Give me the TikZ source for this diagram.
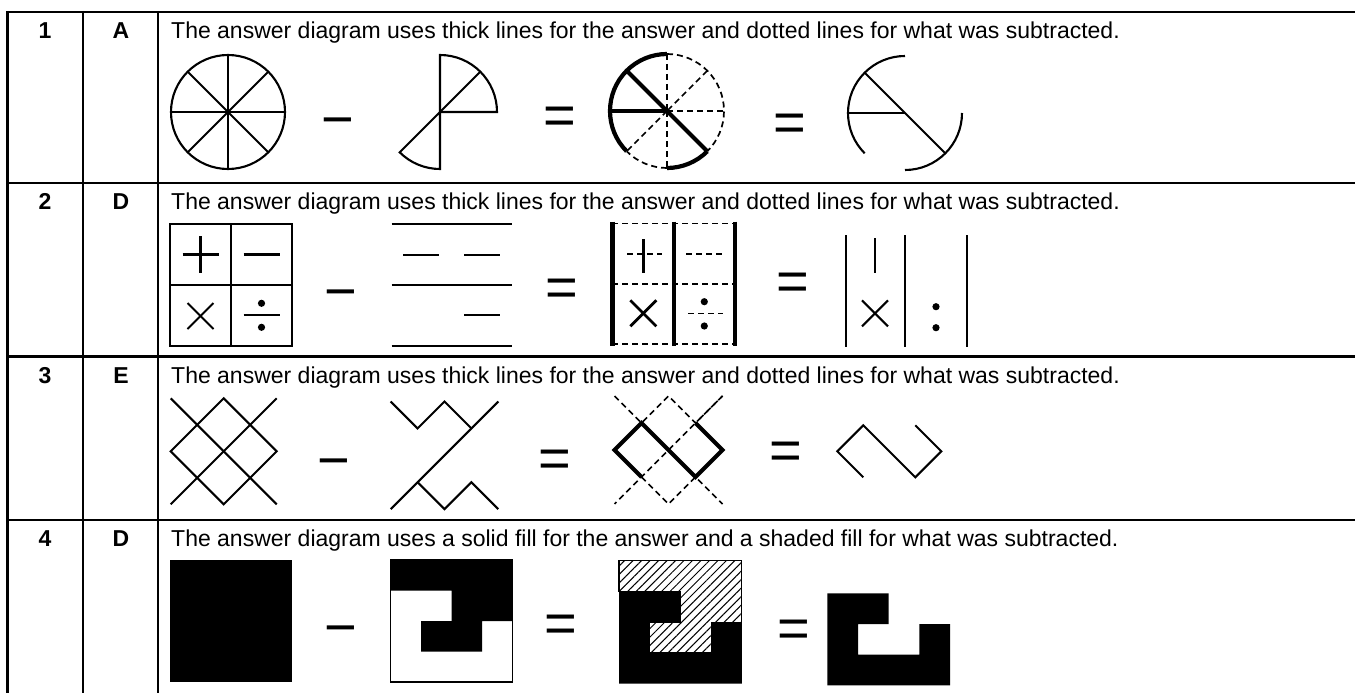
\documentclass[tikz,border=0pt]{standalone}
\usepackage{fontspec}
\setmainfont{Liberation Sans}
\usetikzlibrary{patterns.meta}
\begin{document}
\begin{tikzpicture}[x=1pt,y=-1pt,
  tline/.style={line width=2.4pt},
  ln/.style={line width=2.1pt},
  thk/.style={line width=4.2pt},
  dsh/.style={line width=1.7pt, dash pattern=on 6pt off 4pt},
  txt/.style={anchor=base west, inner sep=0pt, font=\fontsize{23}{26}\selectfont},
  hd/.style={anchor=base, inner sep=0pt, font=\fontsize{23}{26}\selectfont\bfseries},
  op/.style={inner sep=0pt, font=\fontsize{56}{60}\selectfont},
  hatch/.style={pattern={Lines[angle=45,distance=6pt,line width=1pt]}, pattern color=black}
]
\useasboundingbox (0,0) rectangle (1355,693);
% table
\foreach \yy in {12,183,356.5,520} \draw[tline] (7,\yy) -- (1356,\yy);
\foreach \xx in {7.5,83,158} \draw[tline] (\xx,10.8) -- (\xx,694);
% headers
\node[hd] (n1) at (45,38.3) {1};  \node[hd] (l1) at (121,38.3) {A};
\node[hd] (n2) at (45,209.3) {2}; \node[hd] (l2) at (121,209.3) {D};
\node[hd] (n3) at (45,383) {3}; \node[hd] (l3) at (121,383) {E};
\node[hd] (n4) at (45,546.5) {4}; \node[hd] (l4) at (121,546.5) {D};
\node[txt] (t1) at (171,38.3) {The answer diagram uses thick lines for the answer and dotted lines for what was subtracted.};
\node[txt] (t2) at (171,209.3) {The answer diagram uses thick lines for the answer and dotted lines for what was subtracted.};
\node[txt] (t3) at (171,383) {The answer diagram uses thick lines for the answer and dotted lines for what was subtracted.};
\node[txt] (t4) at (171,546.5) {The answer diagram uses a solid fill for the answer and a shaded fill for what was subtracted.};
% operators (node centres offset to glyph centres)
\node[op] (m1) at (338,128) {−};
\node[op] (e1a) at (559.5,120.5) {=};
\node[op] (e1b) at (790,128) {=};
\node[op] (m2) at (341,300) {−};
\node[op] (e2a) at (561.7,293) {=};
\node[op] (e2b) at (792.5,287) {=};
\node[op] (m3) at (334,469) {−};
\node[op] (e3a) at (555,463.5) {=};
\node[op] (e3b) at (786,456) {=};
\node[op] (m4) at (341,636) {−};
\node[op] (e4a) at (561.3,629.2) {=};
\node[op] (e4b) at (794,633.5) {=};
% ---------- row 1 ----------
\begin{scope}[shift={(228,112)}]
  \draw[ln] (0,0) circle[radius=57];
  \foreach \a in {0,45,90,135} \draw[ln] (\a:57) -- (\a+180:57);
\end{scope}
\begin{scope}[shift={(440,112)}]
  \draw[ln] (0,0) -- (0:57) arc[start angle=0,end angle=-90,radius=57] -- cycle;
  \draw[ln] (0,0) -- (-45:57);
  \draw[ln] (0,0) -- (90:57) arc[start angle=90,end angle=135,radius=57] -- cycle;
\end{scope}
\begin{scope}[shift={(667,111)}]
  \draw[dsh] (-90:57) arc[start angle=-90,end angle=45,radius=57];
  \draw[dsh] (90:57) arc[start angle=90,end angle=135,radius=57];
  \draw[dsh] (-90:57) -- (0,0);
  \draw[dsh] (0,0) -- (90:57);
  \draw[dsh] (-45:57) -- (0,0);
  \draw[dsh] (0,0) -- (135:57);
  \draw[dsh] (0,0) -- (0:57);
  \draw[thk] (135:57) arc[start angle=135,end angle=270,radius=57];
  \draw[thk] (45:57) arc[start angle=45,end angle=90,radius=57];
  \draw[thk] (225:57) -- (45:57);
  \draw[thk] (180:57) -- (0,0);
\end{scope}
\begin{scope}[shift={(905,113)}]
  \draw[ln] (135:57) arc[start angle=135,end angle=270,radius=57];
  \draw[ln] (0:57) arc[start angle=0,end angle=90,radius=57];
  \draw[ln] (180:57) -- (0,0);
  \draw[ln] (225:57) -- (45:57);
\end{scope}
% ---------- row 2 ----------
\draw[ln] (170,224) rectangle (292,346);
\draw[ln] (231,224) -- (231,346);
\draw[ln] (170,285) -- (292,285);
\draw[ln] (182.5,254.5) -- (218.5,254.5);
\draw[ln] (200.5,236) -- (200.5,272.5);
\draw[ln] (243.5,254.5) -- (279.5,254.5);
\draw[ln] (187.5,303) -- (213.5,329);
\draw[ln] (187.5,329) -- (213.5,303);
\draw[ln] (243.5,315.3) -- (279.5,315.3);
\fill (261.5,303.3) circle[radius=3.6];
\fill (261.5,327.3) circle[radius=3.6];
% subtracted lines
\draw[ln] (391.7,224.3) -- (512.3,224.3);
\draw[ln] (403.3,254.7) -- (439.3,254.7);
\draw[ln] (464,254.7) -- (500,254.7);
\draw[ln] (391.7,285) -- (512.3,285);
\draw[ln] (464,315.3) -- (500,315.3);
\draw[ln] (391.7,346) -- (512.3,346);
% answer grid
\draw[dsh] (612,223.5) -- (735,223.5);
\draw[dsh] (612,284) -- (735,284);
\draw[dsh] (612,344) -- (735,344);
\draw[dsh] (627,254) -- (662,254);
\draw[dsh] (686,254) -- (723,254);
\draw[dsh] (688,313.5) -- (723,313.5);
\draw[thk] (612.5,221.5) -- (612.5,346);
\draw[thk] (674,221.5) -- (674,346);
\draw[thk] (735,221.5) -- (735,346);
\draw[thk,line width=3pt] (643.3,239) -- (643.3,272.5);
\draw[line width=2.8pt] (630.3,300.3) -- (656.3,326.3);
\draw[line width=2.8pt] (630.3,326.3) -- (656.3,300.3);
\fill (704.3,301.7) circle[radius=3.6];
\fill (704.3,326) circle[radius=3.6];
% answer result
\draw[ln] (845.7,235) -- (845.7,346.7);
\draw[ln] (905,235) -- (905,346.7);
\draw[ln] (966.7,235) -- (966.7,346.7);
\draw[ln] (875,238.3) -- (875,273.3);
\draw[ln] (862,300.3) -- (888,326.3);
\draw[ln] (862,326.3) -- (888,300.3);
\fill (936,306.7) circle[radius=3.6];
\fill (936,327.7) circle[radius=3.6];
% ---------- row 3 ----------
\begin{scope}[shift={(223.7,451.3)}]
  \def\h{53}
  \draw[ln] (-\h,-\h) -- (\h,\h);
  \draw[ln] (\h,-\h) -- (-\h,\h);
  \draw[ln] (0,-\h) -- (-\h,0) -- (0,\h) -- (\h,0) -- cycle;
\end{scope}
\begin{scope}[shift={(444.5,455.3)}]
  \def\h{53.8}
  \draw[ln] (-\h,-\h) -- (-\h/2,-\h/2) -- (0,-\h) -- (\h/2,-\h/2);
  \draw[ln] (\h,-\h) -- (-\h,\h);
  \draw[ln] (-\h/2,\h/2) -- (0,\h) -- (\h/2,\h/2) -- (\h,\h);
\end{scope}
\begin{scope}[shift={(668.5,450)}]
  \def\h{54}
  \draw[dsh] (-\h,-\h) -- (-\h/2,-\h/2) -- (0,-\h) -- (\h/2,-\h/2) -- (\h,-\h);
  \draw[dsh] (\h,-\h) -- (-\h,\h);
  \draw[dsh] (-\h/2,\h/2) -- (0,\h) -- (\h/2,\h/2) -- (\h,\h);
  \draw[thk,line join=miter] (-\h/2,\h/2) -- (-\h,0) -- (-\h/2,-\h/2) -- (\h/2,\h/2) -- (\h,0) -- (\h/2,-\h/2);
\end{scope}
\begin{scope}[shift={(889.3,451.3)}]
  \def\h{52}
  \draw[ln] (-\h/2,\h/2) -- (-\h,0) -- (-\h/2,-\h/2) -- (\h/2,\h/2) -- (\h,0) -- (\h/2,-\h/2);
\end{scope}
% ---------- row 4 ----------
\fill (170,560) rectangle (292.3,682.3);
\begin{scope}[shift={(390.7,560)}]
  \def\u{30.5}
  \draw[line width=1.4pt] (0,0) rectangle (4*\u,4*\u);
  \fill (0,0) -- (4*\u,0) -- (4*\u,2*\u) -- (3*\u,2*\u) -- (3*\u,3*\u) -- (\u,3*\u) -- (\u,2*\u) -- (2*\u,2*\u) -- (2*\u,\u) -- (0,\u) -- cycle;
\end{scope}
\begin{scope}[shift={(619,560.7)}]
  \def\u{30.7}
  \draw[line width=1.2pt, hatch] (0,0) -- (4*\u,0) -- (4*\u,2*\u) -- (3*\u,2*\u) -- (3*\u,3*\u) -- (\u,3*\u) -- (\u,2*\u) -- (2*\u,2*\u) -- (2*\u,\u) -- (0,\u) -- cycle;
  \fill (0,\u) -- (2*\u,\u) -- (2*\u,2*\u) -- (\u,2*\u) -- (\u,3*\u) -- (3*\u,3*\u) -- (3*\u,2*\u) -- (4*\u,2*\u) -- (4*\u,4*\u) -- (0,4*\u) -- cycle;
\end{scope}
\begin{scope}[shift={(827.3,593.3)}]
  \def\u{30.7}
  \fill (0,0) -- (2*\u,0) -- (2*\u,\u) -- (\u,\u) -- (\u,2*\u) -- (3*\u,2*\u) -- (3*\u,\u) -- (4*\u,\u) -- (4*\u,3*\u) -- (0,3*\u) -- cycle;
\end{scope}
\end{tikzpicture}
\end{document}
